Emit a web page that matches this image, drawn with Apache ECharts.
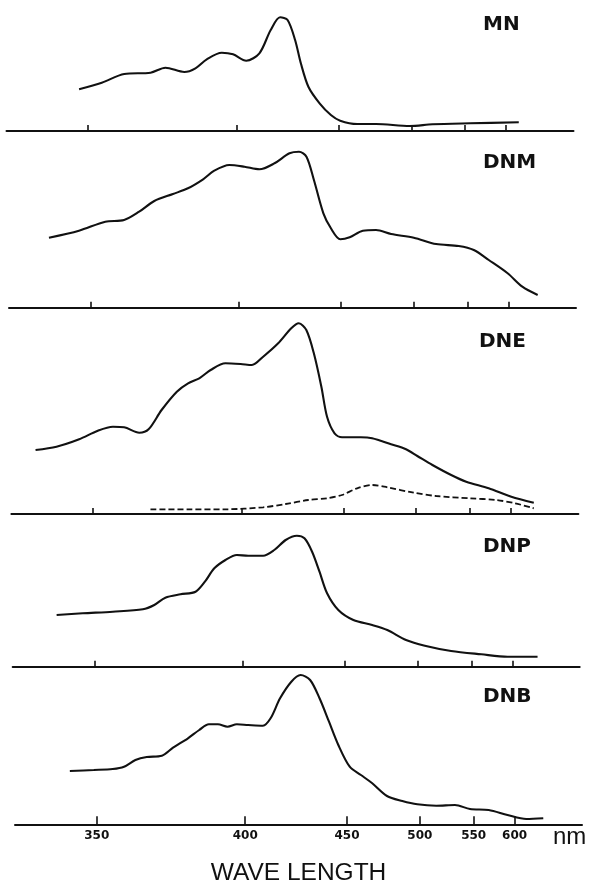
<!DOCTYPE html>
<html><head><meta charset="utf-8">
<script src="https://cdn.jsdelivr.net/npm/echarts@6/dist/echarts.min.js"></script>
<style>html,body{margin:0;padding:0;background:#fff}#c{width:589px;height:882px}</style>
</head><body><div id="c"></div>
<script>
// ---- data (wavelength in nm, absorbance in arbitrary units) ----
const panelNames = ['MN', 'DNM', 'DNE', 'DNP', 'DNB'];
const tickLabels = [350, 400, 450, 500, 550, 600];

const mnNm  = [347.5, 353.8, 360.4, 368.6, 373.5, 380, 384, 388.2, 394, 398.5, 404, 409.7, 414.8, 419.2, 422.8, 426.5, 429.4, 433.3, 439.3, 445.6, 451, 461.4, 473.8, 498.8, 518, 555.3, 618.4];
const mnAbs = [41.7, 48.3, 57, 58.3, 63.3, 59, 62.7, 71.7, 78.3, 76.7, 70.3, 77.7, 101, 113.7, 111, 91, 67.7, 44.3, 27.7, 16, 10.3, 7, 7, 5, 6.7, 7.7, 8.7];

const dnmNm  = [339, 346.8, 354.1, 359.6, 364.2, 369, 375.2, 380.4, 385.9, 390.1, 396, 402.2, 408.6, 415.4, 422.5, 427.2, 431, 434.9, 440, 444.2, 449.6, 455.2, 463.4, 472.1, 482.7, 500, 519, 540.6, 556.7, 574.1, 598.6, 620, 645];
const dnmAbs = [70, 77, 86, 87.7, 96, 106.7, 113.7, 119.4, 128.4, 137, 142.7, 141, 138.4, 144.4, 154.4, 156, 151, 127.7, 94.4, 79.4, 68.4, 70.4, 77, 77.7, 73.7, 70, 63.7, 61.7, 57.7, 47.7, 34.4, 21, 12.7];

const dneNm  = [335.1, 340.3, 346.2, 351.3, 355.6, 358.9, 363.5, 366.4, 370.6, 375.7, 379.6, 383.6, 387.8, 393.5, 399.6, 404.3, 409.2, 416, 422.2, 425.9, 429.7, 433.6, 437.6, 440.7, 444.9, 449.2, 460.6, 467.9, 480.9, 492, 500.9, 513.6, 530.8, 545.9, 571.1, 600.4, 634.4];
const dneAbs = [64, 67.3, 74.7, 83.3, 87.3, 86.7, 81.3, 84.7, 104, 122.3, 130.7, 135.7, 144, 150.7, 150, 149, 157.3, 170.7, 185.7, 190.7, 184, 160.7, 127.3, 97.3, 80.7, 76.7, 76.7, 75.7, 69.7, 64.7, 58, 49, 39, 32.3, 25.7, 17.3, 11.3];

const dneDashNm  = [367, 379.6, 393.5, 409.2, 419.5, 430.7, 440.7, 449.2, 458.3, 467.9, 478.2, 497.9, 516.9, 549.8, 580.4, 605.7, 634.4];
const dneDashAbs = [4.7, 4.7, 4.7, 6.7, 10, 14, 15.7, 19, 25.7, 29, 26.7, 21.3, 18, 15.7, 14, 10.7, 5.7];

const dnpNm  = [340, 346.8, 355.2, 364.2, 367.8, 371.4, 376.5, 381.8, 385.2, 388.7, 393, 397.5, 402.2, 408.6, 413.6, 418.9, 424.3, 428.1, 432, 435.9, 440, 446.3, 455.2, 467.1, 477.3, 491, 506, 529.5, 560.9, 593.4, 638.5];
const dnpAbs = [51.7, 53.4, 55, 57.4, 61.7, 69, 72.4, 75, 85, 98.4, 106.7, 111.7, 111, 111, 116.7, 126.7, 131, 128.4, 115, 95, 73.4, 56.7, 46.7, 41.7, 36.7, 26.7, 21, 15.7, 12.4, 10, 10];

const dnbNm  = [342.8, 349.2, 354.5, 357.8, 361.2, 364.7, 369.5, 373.2, 378.3, 382.3, 385.8, 389.2, 392.9, 396.6, 401.2, 407.5, 410.9, 415.2, 420.5, 425, 429.8, 434.7, 439.8, 445, 451.6, 458.4, 465.6, 475.5, 486.5, 498, 513.8, 531, 546.1, 566.9, 590.3, 616.9, 644.3];
const dnbAbs = [53.3, 54.3, 55.3, 57.6, 64.3, 67.3, 68.6, 76.6, 86, 94.3, 100, 100, 97.6, 100, 99.3, 98.6, 106, 126, 142.6, 149.3, 144.3, 126, 102.6, 79.3, 57.6, 49.3, 41, 28.3, 23.3, 20, 18.6, 19.3, 15.3, 14.3, 9.3, 5.3, 6];

// ---- scale: the spectrometer axis is linear in 1/lambda^2 ----
const toU = nm => 1e6 / (nm * nm);
const fromU = u => Math.round(1000 / Math.sqrt(u));
const tickU = tickLabels.map(toU);
const U_MIN = 1.9098, U_MAX = 9.2165;

// ---- layout (pixels) ----
const layout = [
  { base: 131,   h: 120, shift: -8.5, labelTop: 15,  labelLeft: 483 },
  { base: 307.7, h: 160, shift: -6,   labelTop: 153, labelLeft: 483 },
  { base: 514,   h: 200, shift: -3.6, labelTop: 332, labelLeft: 479 },
  { base: 666.7, h: 140, shift: -2.3, labelTop: 537, labelLeft: 483 },
  { base: 824.3, h: 155, shift: 0,    labelTop: 687, labelLeft: 483 }
];

const solid = [
  [mnNm, mnAbs], [dnmNm, dnmAbs], [dneNm, dneAbs], [dnpNm, dnpAbs], [dnbNm, dnbAbs]
];

const grids = layout.map(L => ({
  left: 15 + L.shift, width: 567, top: L.base - L.h, height: L.h,
  containLabel: false, outerBoundsMode: 'none'
}));

const xAxes = layout.map((L, i) => {
  const last = i === layout.length - 1;
  return {
    type: 'value', gridIndex: i, min: U_MIN, max: U_MAX, inverse: true,
    splitLine: { show: false },
    axisLine: { show: true, onZero: false, lineStyle: { color: '#111', width: 2 } },
    axisTick: { show: true, inside: true, length: last ? 8 : 6, customValues: tickU,
      lineStyle: { color: '#111', width: 1.6 } },
    axisLabel: { show: last, customValues: tickU, formatter: v => String(fromU(v)),
      fontFamily: 'DejaVu Sans', fontWeight: 'bold', fontSize: 12, color: '#111', margin: 6 },
    name: last ? 'WAVE LENGTH' : '', nameLocation: 'middle', nameGap: 36,
    nameTextStyle: { fontFamily: 'Liberation Sans', fontSize: 24.5, color: '#111' }
  };
});

const yAxes = layout.map((L, i) => ({
  type: 'value', gridIndex: i, min: 0, max: L.h, show: false
}));

const series = solid.map((s, i) => ({
  type: 'line', name: panelNames[i], xAxisIndex: i, yAxisIndex: i,
  data: s[0].map((nm, k) => [toU(nm), s[1][k]]),
  showSymbol: false, smooth: 0.3, silent: true,
  lineStyle: { color: '#111', width: 2.1 }
}));
series.push({
  type: 'line', name: 'DNE (dashed)', xAxisIndex: 2, yAxisIndex: 2,
  data: dneDashNm.map((nm, k) => [toU(nm), dneDashAbs[k]]),
  showSymbol: false, smooth: 0.3, silent: true,
  lineStyle: { color: '#111', width: 1.8, type: [6, 3] }
});

const titles = layout.map((L, i) => ({
  text: panelNames[i], left: L.labelLeft, top: L.labelTop, padding: 0,
  textStyle: { fontFamily: 'DejaVu Sans', fontWeight: 'bold', fontSize: 20, color: '#111' }
}));

const chart = echarts.init(document.getElementById('c'), null, { renderer: 'canvas' });
chart.setOption({
  animation: false,
  backgroundColor: '#fff',
  title: titles,
  grid: grids,
  xAxis: xAxes,
  yAxis: yAxes,
  series: series,
  graphic: [{
    type: 'text', left: 553, top: 825,
    style: { text: 'nm', font: '24px "Liberation Sans"', fill: '#111' }
  }]
});
</script></body></html>
